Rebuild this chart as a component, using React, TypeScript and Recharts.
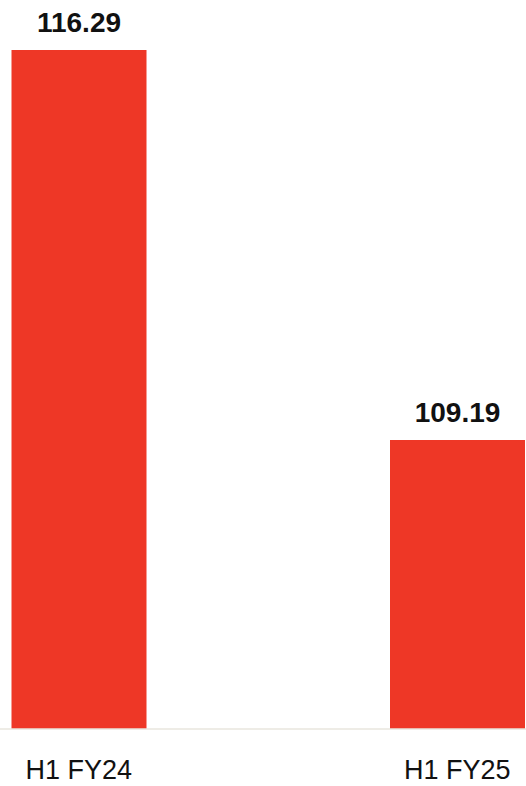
import { BarChart, Bar, XAxis, YAxis, LabelList } from "recharts";

const periods = ["H1 FY24", "H1 FY25"];
const values = [116.29, 109.19];

const data = periods.map((period, i) => ({ period, value: values[i] }));

export default function App() {
  return (
    <div style={{ position: "absolute", left: 0, top: 0, fontFamily: "'Liberation Sans', Arial, sans-serif" }}>
      <BarChart
        width={526}
        height={786}
        data={data}
        margin={{ top: 50, right: -120.5, bottom: 0, left: -110.5 }}
      >
        <XAxis
          dataKey="period"
          height={57}
          tickSize={0}
          tickMargin={31}
          axisLine={{ stroke: "#e9e6de", strokeWidth: 1.5 }}
          tick={{ fill: "#111", fontSize: 27 }}
        />
        <YAxis hide type="number" domain={[103.93, 116.29]} allowDataOverflow />
        <Bar dataKey="value" fill="#ee3726" barSize={135} isAnimationActive={false}>
          <LabelList
            dataKey="value"
            position="top"
            offset={18}
            formatter={(v: number) => v.toFixed(2)}
            style={{ fill: "#111", fontSize: 28, fontWeight: 700 }}
          />
        </Bar>
      </BarChart>
    </div>
  );
}
